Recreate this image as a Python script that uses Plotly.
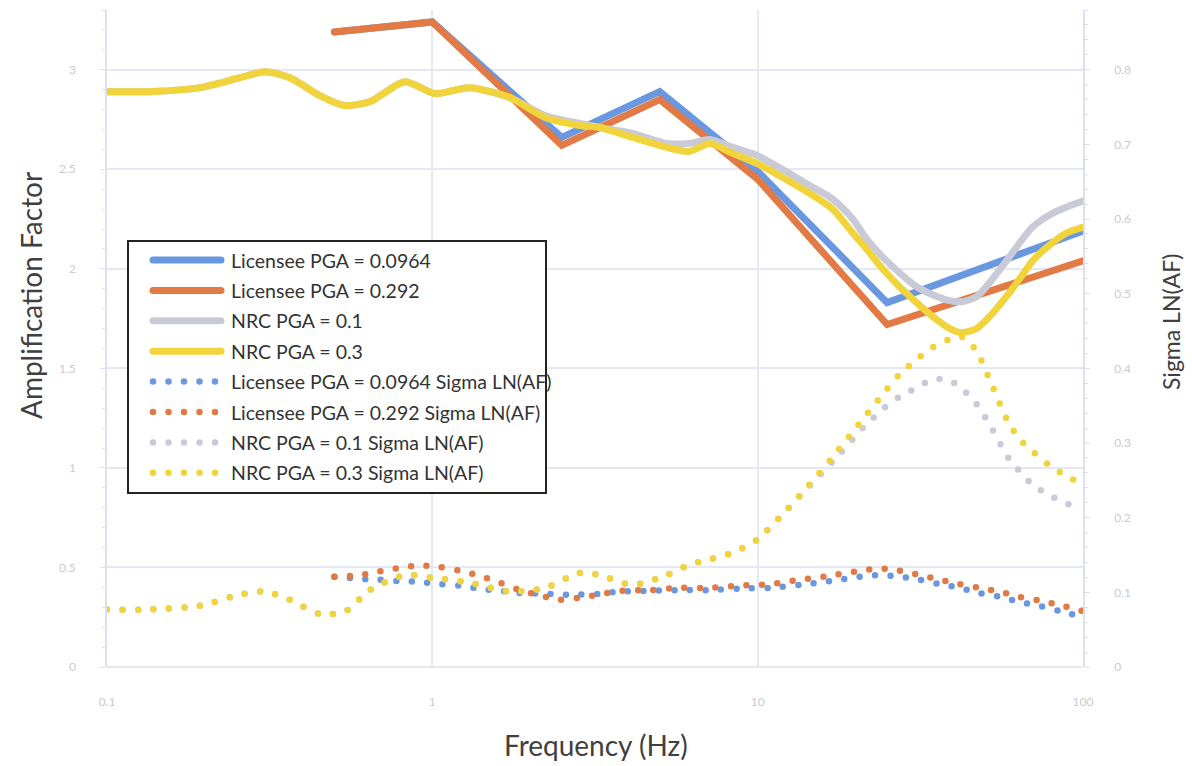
import plotly.graph_objects as go

# ---------------- data ----------------
# Licensee amplification factors (discrete frequencies, Hz)
lic_freq = [0.5, 1, 2.5, 5, 10, 25, 100]
lic_af_0964 = [3.19, 3.24, 2.66, 2.89, 2.49, 1.83, 2.19]
lic_af_292 = [3.19, 3.24, 2.62, 2.85, 2.45, 1.72, 2.04]

# NRC amplification factors
nrc_freq = [0.1, 0.1355, 0.193, 0.256, 0.306, 0.365, 0.451, 0.538, 0.643, 0.823,
            1.02, 1.30, 1.73, 2.22, 2.84, 3.27, 4.13, 5.25, 6.18, 7.12,
            8.38, 9.93, 11.9, 14.4, 17.0, 19.6, 21.6, 24.2, 27.3, 30.8,
            34.5, 38.9, 42.6, 47.1, 51.6, 59.4, 65.2, 70.0, 78.9, 89.0, 100]
nrc_af_01 = [2.89, 2.89, 2.91, 2.96, 2.99, 2.96, 2.87, 2.82, 2.84, 2.94,
             2.88, 2.91, 2.86, 2.77, 2.73, 2.71, 2.68, 2.63, 2.63, 2.65,
             2.61, 2.57, 2.50, 2.42, 2.35, 2.25, 2.15, 2.06, 1.98, 1.91,
             1.87, 1.84, 1.835, 1.86, 1.93, 2.06, 2.15, 2.21, 2.27, 2.31, 2.34]
nrc_af_03 = [2.89, 2.89, 2.91, 2.96, 2.99, 2.96, 2.87, 2.82, 2.84, 2.94,
             2.88, 2.91, 2.86, 2.76, 2.72, 2.71, 2.66, 2.61, 2.59, 2.63,
             2.58, 2.53, 2.46, 2.38, 2.30, 2.18, 2.10, 2.00, 1.91, 1.83,
             1.76, 1.70, 1.68, 1.70, 1.76, 1.88, 1.97, 2.04, 2.12, 2.18, 2.21]

# NRC sigma ln(AF)
nrc_sig_01 = [0.077, 0.077, 0.082, 0.097, 0.101, 0.090, 0.071, 0.074, 0.103, 0.123,
              0.119, 0.113, 0.101, 0.106, 0.126, 0.123, 0.110, 0.123, 0.137, 0.144,
              0.153, 0.170, 0.204, 0.242, 0.275, 0.305, 0.325, 0.345, 0.362, 0.374,
              0.385, 0.384, 0.372, 0.352, 0.325, 0.278, 0.258, 0.244, 0.230, 0.219, 0.211]
nrc_sig_03 = [0.077, 0.077, 0.082, 0.097, 0.101, 0.090, 0.071, 0.074, 0.103, 0.123,
              0.119, 0.113, 0.101, 0.106, 0.126, 0.123, 0.110, 0.123, 0.137, 0.144,
              0.153, 0.170, 0.204, 0.244, 0.281, 0.315, 0.338, 0.365, 0.392, 0.412,
              0.428, 0.439, 0.442, 0.423, 0.385, 0.325, 0.301, 0.289, 0.270, 0.256, 0.244]

# Licensee sigma ln(AF)
lic_sig_freq = [0.5, 0.599, 0.690, 0.795, 0.915, 1.054, 1.215, 1.399, 1.612, 1.857,
                2.22, 2.46, 2.84, 3.27, 3.77, 4.66, 5.76, 7.12, 8.80, 10.9,
                13.5, 16.6, 20.6, 23.7, 27.3, 31.5, 36.2, 41.7, 48.1, 55.4,
                63.8, 73.5, 84.7, 100]
lic_sig_0964 = [0.121, 0.118, 0.117, 0.115, 0.114, 0.111, 0.109, 0.105, 0.102, 0.099,
                0.098, 0.097, 0.097, 0.098, 0.101, 0.102, 0.103, 0.103, 0.105, 0.106,
                0.110, 0.115, 0.121, 0.123, 0.121, 0.117, 0.111, 0.106, 0.099, 0.094,
                0.087, 0.082, 0.075, 0.067]
lic_sig_292 = [0.121, 0.123, 0.128, 0.133, 0.136, 0.134, 0.129, 0.122, 0.113, 0.103,
               0.094, 0.090, 0.093, 0.097, 0.102, 0.103, 0.106, 0.106, 0.109, 0.111,
               0.117, 0.122, 0.129, 0.132, 0.129, 0.123, 0.117, 0.111, 0.106, 0.101,
               0.094, 0.089, 0.083, 0.075]

x_ticks = [0.1, 1, 10, 100]
x_tick_text = ["0.1", "1", "10", "100"]

# ---------------- styling ----------------
BLUE = "#6A98E0"
ORANGE = "#E27A45"
GRAY = "#C9CAD8"
YELLOW = "#F1D43C"
GRID = "#E5E8F3"
FONT = "Lato, 'Open Sans', sans-serif"
DOTS = "0px,15.5px"

W, H = 1192, 766
L, R, T, B = 107, 109, 10, 99
PW, PH = W - L - R, H - T - B

series = [
    ("Licensee PGA = 0.0964", lic_freq, lic_af_0964, BLUE, "solid", "y", "linear"),
    ("Licensee PGA = 0.292", lic_freq, lic_af_292, ORANGE, "solid", "y", "linear"),
    ("NRC PGA = 0.1", nrc_freq, nrc_af_01, GRAY, "solid", "y", "spline"),
    ("NRC PGA = 0.3", nrc_freq, nrc_af_03, YELLOW, "solid", "y", "spline"),
    ("Licensee PGA = 0.0964 Sigma LN(AF)", lic_sig_freq, lic_sig_0964, BLUE, DOTS, "y2", "spline"),
    ("Licensee PGA = 0.292 Sigma LN(AF)", lic_sig_freq, lic_sig_292, ORANGE, DOTS, "y2", "spline"),
    ("NRC PGA = 0.1 Sigma LN(AF)", nrc_freq, nrc_sig_01, GRAY, DOTS, "y2", "spline"),
    ("NRC PGA = 0.3 Sigma LN(AF)", nrc_freq, nrc_sig_03, YELLOW, DOTS, "y2", "spline"),
]

fig = go.Figure()
for name, fx, fy, col, dash, yax, shape in series:
    width = 7 if dash == "solid" else 6.5
    fig.add_trace(go.Scatter(
        x=fx, y=fy, name=name, mode="lines", yaxis=yax,
        line=dict(color=col, width=width, dash=dash, shape=shape, smoothing=0.7),
        showlegend=False, hoverinfo="skip",
    ))


def px_x(p):
    return (p - L) / PW


def px_y(p):
    return (H - B - p) / PH


# boxed legend drawn with shapes and text
shapes = [dict(type="rect", xref="paper", yref="paper",
               x0=px_x(128), x1=px_x(546), y0=px_y(493), y1=px_y(241),
               line=dict(color="#222222", width=2), fillcolor="white", layer="above")]
annotations = []
row0, step = 260, 30.4
for i, (name, _, _, col, dash, _, _) in enumerate(series):
    yy = px_y(row0 + i * step)
    shapes.append(dict(type="line", xref="paper", yref="paper",
                       x0=px_x(153), x1=px_x(221), y0=yy, y1=yy, layer="above",
                       line=dict(color=col, width=7 if dash == "solid" else 6.5, dash=dash)))
    annotations.append(dict(xref="paper", yref="paper", x=px_x(229), y=yy,
                            xanchor="left", yanchor="middle", showarrow=False,
                            text=name, font=dict(family=FONT, size=19.5, color="#333333")))

# axis titles
annotations.append(dict(xref="paper", yref="paper", x=px_x(596), y=px_y(745),
                        xanchor="center", yanchor="middle", showarrow=False,
                        text="Frequency (Hz)", font=dict(family=FONT, size=28, color="#404040")))
annotations.append(dict(xref="paper", yref="paper", x=px_x(31), y=px_y(296),
                        xanchor="center", yanchor="middle", showarrow=False, textangle=-90,
                        text="Amplification Factor", font=dict(family=FONT, size=28, color="#404040")))
annotations.append(dict(xref="paper", yref="paper", x=px_x(1171), y=px_y(322),
                        xanchor="center", yanchor="middle", showarrow=False, textangle=-90,
                        text="Sigma LN(AF)", font=dict(family=FONT, size=23, color="#404040")))

tick_font = dict(family=FONT, size=12, color="#CACACA")

fig.update_layout(
    width=W, height=H, autosize=False,
    margin=dict(l=L, r=R, t=T, b=B),
    paper_bgcolor="white", plot_bgcolor="white",
    showlegend=False,
    shapes=shapes, annotations=annotations,
    xaxis=dict(type="log", range=[-1, 2], tickvals=x_ticks, ticktext=x_tick_text,
               showgrid=True, gridcolor=GRID, gridwidth=1.5, zeroline=False,
               showline=False, ticks="", ticklabelstandoff=26, tickfont=tick_font),
    yaxis=dict(range=[0, 3.3], dtick=0.5, showgrid=True, gridcolor=GRID, gridwidth=1.5,
               zeroline=True, zerolinecolor=GRID, zerolinewidth=1.5,
               showline=True, linecolor="#DCE0EE", linewidth=1.5,
               ticks="outside", ticklen=5, tickcolor="#DCE0EE",
               minor=dict(dtick=0.1, ticks="outside", ticklen=3, tickcolor="#DCE0EE"),
               ticklabelstandoff=22, tickfont=tick_font),
    yaxis2=dict(range=[0, 0.88], dtick=0.1, overlaying="y", side="right",
                showgrid=False, zeroline=False,
                showline=True, linecolor="#DCE0EE", linewidth=1.5,
                ticks="outside", ticklen=5, tickcolor="#DCE0EE",
                minor=dict(dtick=0.02, ticks="outside", ticklen=3, tickcolor="#DCE0EE"),
                ticklabelstandoff=22, tickfont=tick_font),
)

# round line caps so the dotted series render as round dots
round_caps = """
var st = document.createElement('style');
st.textContent = '.js-line, .shapelayer path { stroke-linecap: round !important; }';
document.head.appendChild(st);
"""

fig.write_html("out.html", post_script=round_caps)
